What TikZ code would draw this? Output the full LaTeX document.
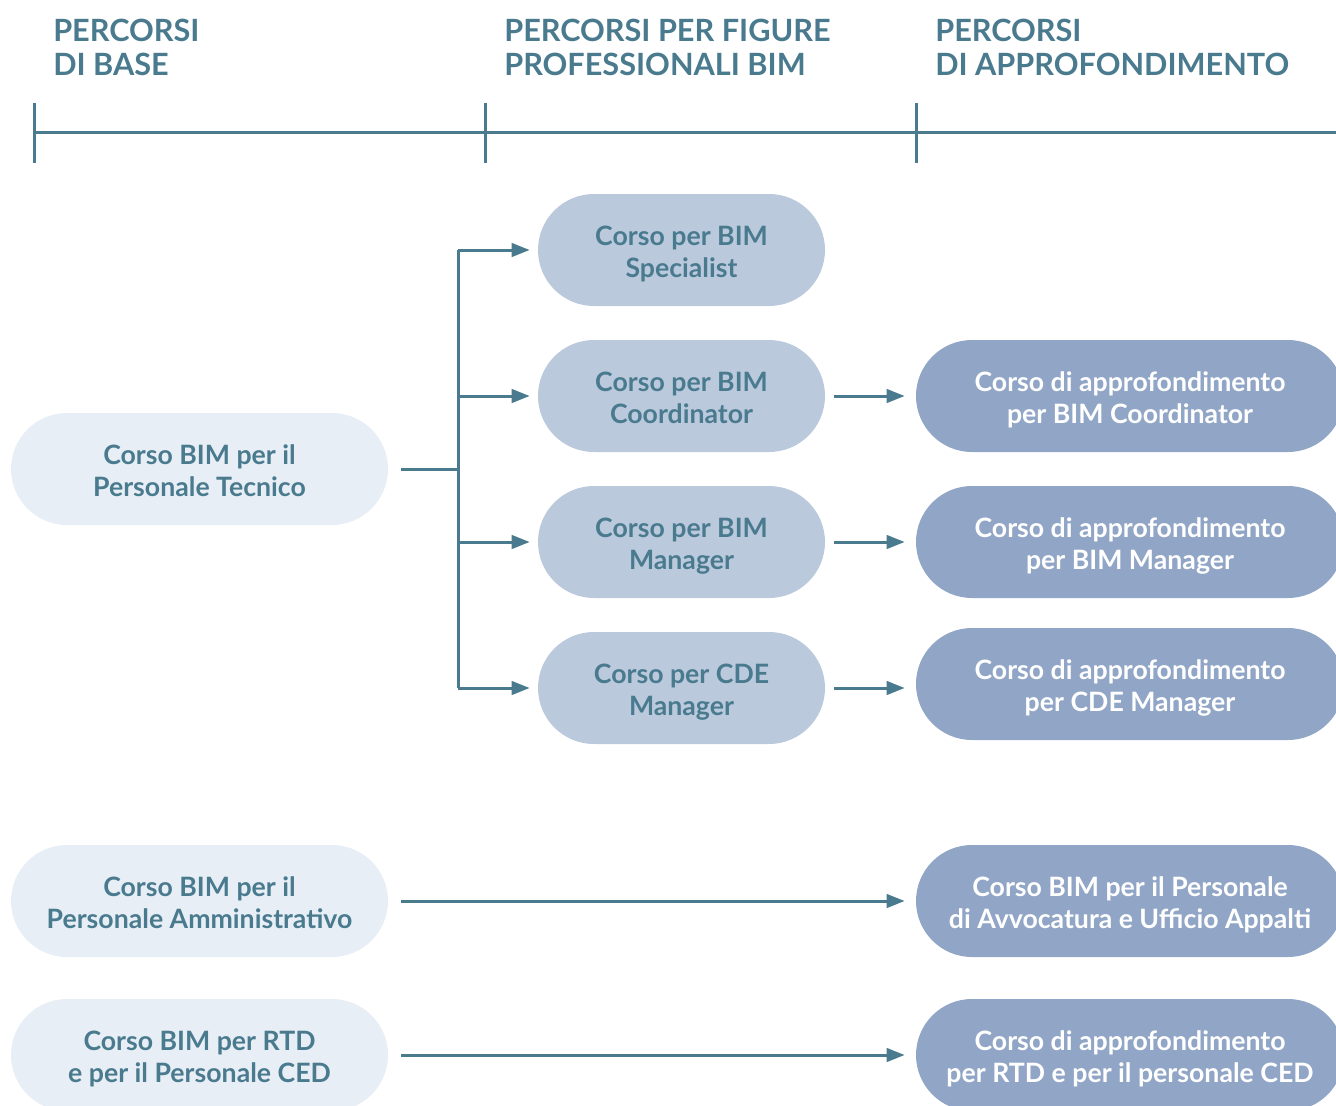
\documentclass[tikz,border=0pt]{standalone}
\usepackage{fontspec}
\setmainfont{Lato}
\newfontfamily\latobold{Lato Bold}
\usetikzlibrary{arrows.meta}
\definecolor{teal}{HTML}{497A8E}
\definecolor{lightfill}{HTML}{E8EEF5}
\definecolor{midfill}{HTML}{BBC9DD}
\definecolor{darkfill}{HTML}{91A6C6}
\newcommand{\twolines}[2]{\rule{0pt}{21.5pt}#1\\#2\rule[-5pt]{0pt}{5pt}}
\tikzset{
  pill/.style={rectangle, rounded corners=42pt, minimum height=84pt, inner sep=0pt, align=center,
    font=\latobold\fontsize{20}{24}\selectfont},
  basebox/.style={pill, fill=lightfill, text=teal, minimum width=282.75pt},
  midbox/.style={pill, fill=midfill, text=teal, minimum width=215.25pt},
  deepbox/.style={pill, fill=darkfill, text=white, minimum width=321pt},
  head/.style={anchor=north west, inner sep=0pt, align=left, text=teal,
    font=\latobold\fontsize{23}{25.5}\selectfont},
  conn/.style={draw=teal, line width=2.25pt},
  arr/.style={conn, -{Triangle[length=13.5pt,width=10pt]}},
}
\begin{document}
\begin{tikzpicture}[x=0.75pt,y=-0.75pt]
\useasboundingbox (0,0) rectangle (1336,1106);
\clip (0,0) rectangle (1336,1106);
% headers
\node[head] (h1) at (53,19) {PERCORSI\\DI BASE};
\node[head] (h2) at (504,19) {PERCORSI PER FIGURE\\PROFESSIONALI BIM};
\node[head] (h3) at (935,19) {PERCORSI\\DI APPROFONDIMENTO};
% timeline
\coordinate (tl0) at (34,133);
\coordinate (tl1) at (485,133);
\coordinate (tl2) at (916,133);
\coordinate (tlend) at (1340,133);
\draw[conn] (tl0) -- (tlend);
\foreach \t in {tl0,tl1,tl2}{\draw[conn] ([yshift=22.5pt]\t) -- ([yshift=-22.5pt]\t);}
% boxes
\node[basebox] (tec) at (199.5,469) {\twolines{Corso BIM per il}{Personale Tecnico}};
\node[basebox] (amm) at (199.5,901) {\twolines{Corso BIM per il}{Personale Amministrativo}};
\node[basebox] (rtd) at (199.5,1055) {\twolines{Corso BIM per RTD}{e per il Personale CED}};
\node[midbox] (spe) at (681.5,250) {\twolines{Corso per BIM}{Specialist}};
\node[midbox] (coo) at (681.5,396) {\twolines{Corso per BIM}{Coordinator}};
\node[midbox] (man) at (681.5,542) {\twolines{Corso per BIM}{Manager}};
\node[midbox] (cde) at (681.5,688) {\twolines{Corso per CDE}{Manager}};
\node[deepbox] (acoo) at (1130,396) {\twolines{Corso di approfondimento}{per BIM Coordinator}};
\node[deepbox] (aman) at (1130,542) {\twolines{Corso di approfondimento}{per BIM Manager}};
\node[deepbox] (acde) at (1130,684) {\twolines{Corso di approfondimento}{per CDE Manager}};
\node[deepbox] (aavv) at (1130,901) {\twolines{Corso BIM per il Personale}{di Avvocatura e Ufficio Appalti}};
\node[deepbox] (artd) at (1130,1055) {\twolines{Corso di approfondimento}{per RTD e per il personale CED}};
% connectors
\coordinate (j) at (458,469);
\draw[conn] ([xshift=9.75pt]tec.east) -- (j);
\draw[conn] (j |- spe.west) -- (j |- cde.west);
\foreach \b in {spe,coo,man,cde}{\draw[arr, shorten >=6pt] (j |- \b.west) -- (\b.west);}
\draw[arr, shorten <=6.75pt, shorten >=8.25pt] (coo.east) -- (acoo.west);
\draw[arr, shorten <=6.75pt, shorten >=8.25pt] (man.east) -- (aman.west |- man.east);
\draw[arr, shorten <=6.75pt, shorten >=8.25pt] (cde.east) -- (acde.west |- cde.east);
\draw[arr, shorten <=9.75pt, shorten >=8.25pt] (amm.east) -- (aavv.west);
\draw[arr, shorten <=9.75pt, shorten >=8.25pt] (rtd.east) -- (artd.west);
\end{tikzpicture}
\end{document}
